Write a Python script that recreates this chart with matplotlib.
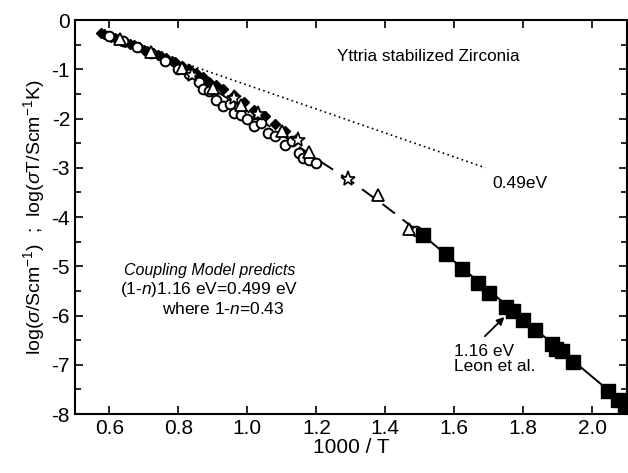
import matplotlib
matplotlib.use("Agg")
import matplotlib.pyplot as plt
from matplotlib.ticker import MultipleLocator

plt.rcParams['font.family'] = ['Liberation Sans', 'DejaVu Sans']
plt.rcParams['mathtext.fontset'] = 'custom'
plt.rcParams['mathtext.rm'] = 'Liberation Sans'
plt.rcParams['mathtext.it'] = 'Liberation Sans:italic'

# Leon et al. (filled squares, low temperature)
sq_x = [1.509, 1.577, 1.621, 1.669, 1.701, 1.749, 1.769, 1.799, 1.833, 1.882,
        1.896, 1.911, 1.944, 2.046, 2.075, 2.094]
sq_y = [-4.37, -4.76, -5.06, -5.33, -5.54, -5.82, -5.90, -6.09, -6.29, -6.58,
        -6.67, -6.73, -6.94, -7.53, -7.72, -7.82]
# 1.16 eV fit line
fit_x = [1.48, 2.10]
fit_y = [-4.20, -7.83]
# 0.49 eV dotted line
dot_x = [0.58, 1.69]
dot_y = [-0.30, -3.00]
# dashed guide through high-T data
dash_x = [0.58, 0.70, 0.80, 0.90, 1.00, 1.10, 1.20, 1.30, 1.40, 1.50]
dash_y = [-0.28, -0.63, -0.98, -1.40, -1.85, -2.33, -2.82, -3.27, -3.78, -4.32]
# filled small markers (high T)
fd_x = [0.575, 0.585, 0.595, 0.605, 0.615, 0.625, 0.635, 0.645, 0.66, 0.67,
        0.685, 0.70, 0.71, 0.725, 0.74, 0.75, 0.765, 0.78, 0.79, 0.81, 0.83,
        0.85, 0.87, 0.89, 0.91, 0.93, 0.96, 0.99, 1.02, 1.05, 1.08, 1.11, 1.14]
fd_y = [-0.27, -0.29, -0.32, -0.34, -0.36, -0.39, -0.42, -0.44, -0.48, -0.51,
        -0.55, -0.60, -0.62, -0.67, -0.71, -0.74, -0.78, -0.83, -0.86, -0.93,
        -1.00, -1.08, -1.15, -1.25, -1.32, -1.40, -1.53, -1.66, -1.82, -1.95,
        -2.12, -2.26, -2.42]
# open circles
oc_x = [0.60, 0.64, 0.68, 0.72, 0.76, 0.80, 0.83, 0.86, 0.87, 0.89, 0.91,
        0.93, 0.95, 0.96, 0.98, 1.00, 1.02, 1.04, 1.06, 1.08, 1.11, 1.13,
        1.15, 1.16, 1.18, 1.20, 1.49]
oc_y = [-0.33, -0.42, -0.55, -0.66, -0.84, -1.00, -1.10, -1.25, -1.40, -1.45,
        -1.62, -1.75, -1.70, -1.88, -1.93, -2.00, -2.15, -2.10, -2.30, -2.35,
        -2.54, -2.45, -2.71, -2.81, -2.84, -2.91, -4.28]
# open triangles
ot_x = [0.63, 0.72, 0.81, 0.90, 0.98, 1.03, 1.10, 1.18, 1.379, 1.47]
ot_y = [-0.38, -0.64, -0.98, -1.38, -1.72, -1.88, -2.25, -2.67, -3.55, -4.24]
# open stars
st_x = [0.84, 0.96, 1.03, 1.147, 1.292]
st_y = [-1.12, -1.58, -1.90, -2.44, -3.22]

fig = plt.figure(figsize=(6.28, 4.73), dpi=100)
ax = fig.add_axes([0.1194, 0.1247, 0.8786, 0.833])

ax.plot(dot_x, dot_y, linestyle=(0, (1, 2)), color='black', lw=1.2)
ax.plot(dash_x, dash_y, linestyle=(0, (8, 5)), color='black', lw=1.4)
ax.plot(fit_x, fit_y, '-', color='black', lw=1.4)

ax.plot(fd_x, fd_y, 'D', ms=5.5, color='black', ls='none')
ax.plot(oc_x, oc_y, 'o', ms=7, mfc='white', mec='black', mew=1.4, ls='none')
ax.plot(ot_x, ot_y, '^', ms=8, mfc='white', mec='black', mew=1.3, ls='none')
ax.plot(st_x, st_y, '*', ms=11, mfc='white', mec='black', mew=1.2, ls='none')
ax.plot(sq_x, sq_y, 's', ms=10, color='black', ls='none', clip_on=False)

ax.set_xlim(0.5, 2.1)
ax.set_ylim(-8, 0)
ax.yaxis.set_minor_locator(MultipleLocator(0.5))
ax.tick_params(which='both', direction='in', top=True, right=True, labelsize=15)
ax.tick_params(which='major', length=6, width=1.2)
ax.tick_params(which='minor', length=4, width=1.2)
ax.set_xticks([0.6, 0.8, 1.0, 1.2, 1.4, 1.6, 1.8, 2.0])
ax.set_xticklabels(['0.6', '0.8', '1.0', '1.2', '1.4', '1.6', '1.8', '2.0'])
ax.set_yticks([0, -1, -2, -3, -4, -5, -6, -7, -8])
ax.set_yticklabels(['0', '-1', '-2', '-3', '-4', '-5', '-6', '-7', '-8'])
for s in ax.spines.values():
    s.set_linewidth(1.5)

ax.set_xlabel('1000 / T', fontsize=15, labelpad=0)
ax.set_ylabel(r'log($\sigma$/Scm$^{-1}$)  ;  log($\sigma$T/Scm$^{-1}$K)', fontsize=14, labelpad=3)

ax.text(1.26, -0.75, 'Yttria stabilized Zirconia', fontsize=12.3, va='center', ha='left')
ax.text(1.71, -3.31, '0.49eV', fontsize=12.5, va='center', ha='left')
ax.text(0.89, -5.08, 'Coupling Model predicts', fontsize=11.5, style='italic', va='center', ha='center')
ax.text(0.89, -5.48, r'(1-$\mathit{n}$)1.16 eV=0.499 eV', fontsize=12.5, va='center', ha='center')
ax.text(0.93, -5.86, r'where 1-$\mathit{n}$=0.43', fontsize=12.5, va='center', ha='center')
ax.text(1.60, -6.73, '1.16 eV', fontsize=12.5, va='center', ha='left')
ax.text(1.60, -7.04, 'Leon et al.', fontsize=12.5, va='center', ha='left')
ax.annotate('', xy=(1.751, -5.99), xytext=(1.683, -6.46),
            arrowprops=dict(arrowstyle='-|>', color='black', lw=1.3, mutation_scale=11))

fig.savefig('out.png', dpi=100)
